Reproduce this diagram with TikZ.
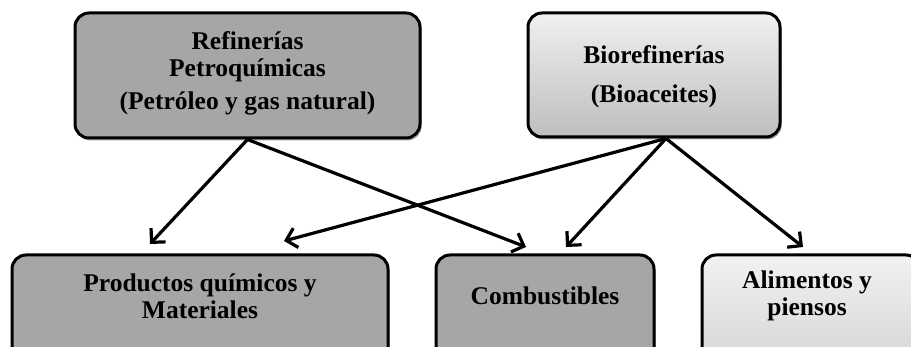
\documentclass[tikz,border=0pt]{standalone}
\usepackage{fontspec}
\setmainfont{Liberation Serif}
\usetikzlibrary{arrows.meta,shadows,calc}
\definecolor{boxdark}{HTML}{A6A6A6}
\definecolor{lighttop}{HTML}{F0F0F0}
\definecolor{lightbot}{HTML}{BEBEBE}
\begin{document}
\begin{tikzpicture}[x=1pt,y=1pt,
  boxbase/.style={draw=black, line width=3pt, rounded corners=14pt, inner sep=0pt,
    drop shadow={shadow xshift=1.5pt, shadow yshift=-2.5pt, opacity=0.35, fill=black}},
  darkbox/.style={boxbase, fill=boxdark},
  lightbox/.style={boxbase, top color=lighttop, bottom color=lightbot},
  lbl/.style={font=\fontsize{25.5}{27}\selectfont\bfseries, align=center, text=black, inner sep=0pt},
  conn/.style={line width=3.2pt, -{Straight Barb[length=10pt,width=20pt]}}
]
\clip (0,0) rectangle (911,-347);
\fill[white] (0,0) rectangle (911,-347);

% boxes
\node[darkbox, minimum width=345pt, minimum height=125pt] (tl) at (247.5,-75.5) {};
\node[lightbox, minimum width=252pt, minimum height=124pt] (tr) at (654,-75) {};
\node[darkbox, minimum width=376pt, minimum height=125pt] (pq) at (200,-317.5) {};
\node[darkbox, minimum width=218pt, minimum height=125pt] (cb) at (545,-317.5) {};
\node[lightbox, minimum width=218pt, minimum height=125pt, top color=lighttop!90!white, bottom color=lightbot!60!lighttop] (al) at (811,-317.5) {};

% texts
\node[lbl] (tlt) at (247.5,-73.5) {Refinerías\\Petroquímicas\\[6pt](Petróleo y gas natural)};
\node[lbl] (trt) at (654,-77) {Biorefinerías\\[12pt](Bioaceites)};
\node[lbl] (pqt) at (200,-296) {Productos químicos y\\Materiales};
\node[lbl] (cbt) at (545,-296) {Combustibles};
\node[lbl] (alt) at (807,-296) {Alimentos y\\piensos};

% connector ends
\coordinate (trs) at ($(tr.south)+(12,0)$);
\coordinate (e1) at (150,-244);
\coordinate (e2) at (526,-247);
\coordinate (e3) at (284,-241);
\coordinate (e4) at (566,-247);
\coordinate (e5) at (803,-247);

\draw[conn] (tl.south) -- (e1);
\draw[conn] (tl.south) -- (e2);
\draw[conn] (trs) -- (e3);
\draw[conn] (trs) -- (e4);
\draw[conn] (trs) -- (e5);
\end{tikzpicture}
\end{document}
